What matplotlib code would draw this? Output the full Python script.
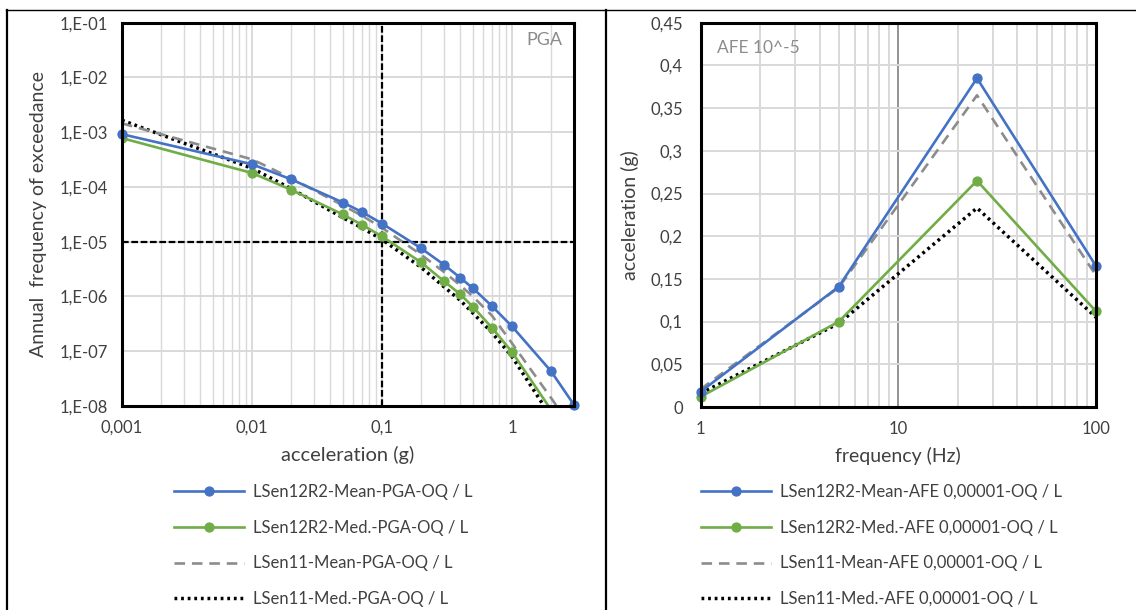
import matplotlib
matplotlib.use("Agg")
import matplotlib.pyplot as plt
from matplotlib.lines import Line2D
from matplotlib.ticker import FixedLocator, NullFormatter, NullLocator

# ---- hazard curves (PGA) ----
pga_acc = [0.001, 0.01, 0.02, 0.05, 0.07, 0.1, 0.2, 0.3, 0.4, 0.5, 0.7, 1, 2, 3]
pga_r2_mean = [9.2e-4, 2.6e-4, 1.38e-4, 5.2e-5, 3.5e-5, 2.15e-5, 7.6e-6, 3.8e-6,
               2.2e-6, 1.42e-6, 6.7e-7, 2.85e-7, 4.3e-8, 1.05e-8]
pga_r2_med = [7.8e-4, 1.8e-4, 8.9e-5, 3.15e-5, 2.05e-5, 1.25e-5, 4.2e-6, 1.9e-6,
              1.1e-6, 6.5e-7, 2.7e-7, 9.7e-8, 8.5e-9, 1.5e-9]
pga_11_mean = [1.45e-3, 3.2e-4, 1.45e-4, 4.6e-5, 3.0e-5, 1.8e-5, 5.8e-6, 2.8e-6,
               1.6e-6, 1.0e-6, 4.5e-7, 1.4e-7, 1.4e-8, 3.5e-9]
pga_11_med = [1.65e-3, 2.2e-4, 9.3e-5, 2.75e-5, 1.8e-5, 1.1e-5, 3.4e-6, 1.5e-6,
              8.5e-7, 5.0e-7, 2.2e-7, 8.0e-8, 6.3e-9, 1.2e-9]
pga_labels = ["LSen12R2-Mean-PGA-OQ / L", "LSen12R2-Med.-PGA-OQ / L",
              "LSen11-Mean-PGA-OQ / L", "LSen11-Med.-PGA-OQ / L"]

# ---- uniform hazard spectra (AFE 1e-5) ----
uhs_freq = [1, 5, 25, 100]
uhs_r2_mean = [0.018, 0.141, 0.385, 0.165]
uhs_r2_med = [0.012, 0.100, 0.265, 0.112]
uhs_11_mean = [0.021, 0.140, 0.365, 0.154]
uhs_11_med = [0.016, 0.098, 0.233, 0.105]
uhs_labels = ["LSen12R2-Mean-AFE 0,00001-OQ / L", "LSen12R2-Med.-AFE 0,00001-OQ / L",
              "LSen11-Mean-AFE 0,00001-OQ / L", "LSen11-Med.-AFE 0,00001-OQ / L"]

ref_afe = 1e-5
ref_acc = 0.1

left_yticks = [1e-1, 1e-2, 1e-3, 1e-4, 1e-5, 1e-6, 1e-7, 1e-8]
left_yticklabels = ["1,E-01", "1,E-02", "1,E-03", "1,E-04", "1,E-05", "1,E-06", "1,E-07", "1,E-08"]
left_xticks = [0.001, 0.01, 0.1, 1]
left_xticklabels = ["0,001", "0,01", "0,1", "1"]
right_yticks = [0, 0.05, 0.1, 0.15, 0.2, 0.25, 0.3, 0.35, 0.4, 0.45]
right_yticklabels = ["0", "0,05", "0,1", "0,15", "0,2", "0,25", "0,3", "0,35", "0,4", "0,45"]
right_xticks = [1, 10, 100]
right_xticklabels = ["1", "10", "100"]

plt.rcParams['font.family'] = ['Lato', 'DejaVu Sans']

BLUE = "#4472C4"
GREEN = "#70AD47"
GRAY = "#8C8C8C"
GRID = "#D9D9D9"
TXT = "#404040"

W, H = 1136, 610
fig = plt.figure(figsize=(W / 100, H / 100), dpi=100)


def px_axes(x0, y0, x1, y1):
    return fig.add_axes([x0 / W, 1 - y1 / H, (x1 - x0) / W, (y1 - y0) / H])


axL = px_axes(122, 22.7, 574, 406)
axR = px_axes(700.7, 22.7, 1096, 407)

series_style = [
    dict(color=BLUE, lw=1.9, marker='o', ms=6.4),
    dict(color=GREEN, lw=1.9, marker='o', ms=6.4),
    dict(color=GRAY, lw=1.9, linestyle=(0, (4, 2.6))),
    dict(color='black', lw=2.5, linestyle=(0, (0.8, 1.1))),
]

# ---------- left panel ----------
axL.set_xscale('log')
axL.set_yscale('log')
axL.set_xlim(0.001, 3)
axL.set_ylim(1e-8, 1e-1)
left_series = [pga_r2_mean, pga_r2_med, pga_11_mean, pga_11_med]
for i, (vals, st) in enumerate(zip(left_series, series_style)):
    axL.plot(pga_acc, vals, zorder=7 - i * 0.5, clip_on=(i != 0), **st)
axL.axhline(ref_afe, color='black', lw=1.6, linestyle=(0, (3, 1.2)), zorder=3)
axL.axvline(ref_acc, color='black', lw=1.6, linestyle=(0, (3, 1.2)), zorder=3)

axL.yaxis.set_major_locator(FixedLocator(left_yticks))
axL.yaxis.set_minor_locator(NullLocator())
axL.set_yticklabels(left_yticklabels)
axL.xaxis.set_major_locator(FixedLocator(left_xticks))
axL.set_xticklabels(left_xticklabels)
minors = [m * 10.0 ** e for e in range(-3, 1) for m in range(2, 10) if m * 10.0 ** e < 3]
axL.xaxis.set_minor_locator(FixedLocator(minors))
axL.xaxis.set_minor_formatter(NullFormatter())
axL.grid(True, which='major', color=GRID, lw=1.4, zorder=0)
axL.grid(True, which='minor', axis='x', color=GRID, lw=1.0, zorder=0)
axL.set_axisbelow(True)
axL.set_xlabel("acceleration (g)", fontsize=14.5, color=TXT, labelpad=7)
axL.set_ylabel("Annual  frequency of exceedance", fontsize=14, color=TXT, labelpad=9)
axL.text(0.975, 0.975, "PGA", transform=axL.transAxes, ha='right', va='top',
         fontsize=13, color="#8C8C8C")
axL.tick_params(axis='y', pad=10)

# ---------- right panel ----------
axR.set_xscale('log')
axR.set_xlim(1, 100)
axR.set_ylim(0, 0.45)
right_series = [uhs_r2_mean, uhs_r2_med, uhs_11_mean, uhs_11_med]
for i, (vals, st) in enumerate(zip(right_series, series_style)):
    axR.plot(uhs_freq, vals, zorder=7 - i * 0.5, clip_on=False, **st)

axR.yaxis.set_major_locator(FixedLocator(right_yticks))
axR.set_yticklabels(right_yticklabels)
axR.xaxis.set_major_locator(FixedLocator(right_xticks))
axR.set_xticklabels(right_xticklabels)
rminors = [m * 10.0 ** e for e in range(0, 2) for m in range(2, 10)]
axR.xaxis.set_minor_locator(FixedLocator(rminors))
axR.xaxis.set_minor_formatter(NullFormatter())
axR.grid(True, which='major', axis='y', color=GRID, lw=1.4, zorder=0)
axR.grid(True, which='minor', axis='x', color=GRID, lw=1.4, zorder=0)
axR.grid(True, which='major', axis='x', color="#808080", lw=1.2, zorder=0)
axR.set_axisbelow(True)
axR.set_xlabel("frequency (Hz)", fontsize=14, color=TXT, labelpad=7)
axR.set_ylabel("acceleration (g)", fontsize=14, color=TXT, labelpad=8)
axR.text(0.04, 0.955, "AFE 10^-5", transform=axR.transAxes, ha='left', va='top',
         fontsize=12.5, color="#8C8C8C")
axR.tick_params(axis='y', pad=13)

for ax in (axL, axR):
    for sp in ax.spines.values():
        sp.set_color('black')
        sp.set_linewidth(2.2)
        sp.set_zorder(10)
    ax.tick_params(which='both', length=0, labelsize=12, labelcolor=TXT)
    ax.tick_params(axis='x', pad=10)

# ---------- legends ----------
leg_kw = dict(loc='upper left', bbox_transform=fig.transFigure, frameon=False,
              borderpad=0, borderaxespad=0, handlelength=4.2, handletextpad=0.55,
              labelspacing=1.18, fontsize=12, labelcolor=TXT)
proxy = [Line2D([], [], **st) for st in series_style]
axL.legend(proxy, pga_labels, bbox_to_anchor=(174 / W, 1 - 484 / H), **leg_kw)
axR.legend(proxy, uhs_labels, bbox_to_anchor=(701 / W, 1 - 484 / H), **leg_kw)


# ---------- frame lines ----------
def hline(y, x0, x1, lw):
    fig.add_artist(Line2D([x0 / W, x1 / W], [1 - y / H, 1 - y / H], color='black', lw=lw))


def vline(x, y0, y1, lw):
    fig.add_artist(Line2D([x / W, x / W], [1 - y0 / H, 1 - y1 / H], color='black', lw=lw))


hline(10, 6, W, 1.0)
vline(7, 10, H, 1.6)
vline(606, 10, H, 1.6)

fig.savefig("out.png", dpi=100)
